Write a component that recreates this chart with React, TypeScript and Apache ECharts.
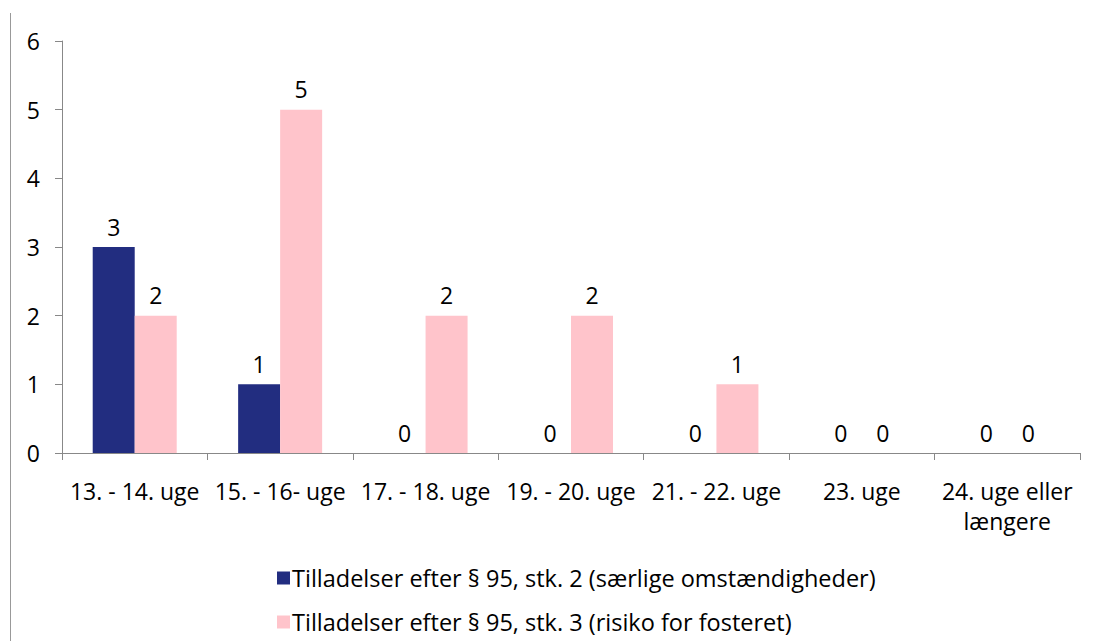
import React, { useEffect, useRef } from "react";
import * as echarts from "echarts";

const categories = [
  "13. - 14. uge",
  "15. - 16- uge",
  "17. - 18. uge",
  "19. - 20. uge",
  "21. - 22. uge",
  "23. uge",
  "24. uge eller\nlængere",
];
const seriesNames = [
  "Tilladelser efter § 95, stk. 2 (særlige omstændigheder)",
  "Tilladelser efter § 95, stk. 3 (risiko for fosteret)",
];
const stk2 = [3, 1, 0, 0, 0, 0, 0];
const stk3 = [2, 5, 2, 2, 1, 0, 0];
const yTicks = [0, 1, 2, 3, 4, 5, 6];

const FONT = "Open Sans";
const FS = 23;

export default function App() {
  const ref = useRef<HTMLDivElement>(null);
  useEffect(() => {
    if (!ref.current) return;
    const chart = echarts.init(ref.current, null, { renderer: "svg" });
    chart.setOption({
      animation: false,
      backgroundColor: "#fff",
      textStyle: { fontFamily: FONT },
      grid: { left: 62, right: 15, top: 41, bottom: 188, containLabel: false },
      legend: {
        orient: "vertical",
        left: 272,
        top: 561,
        itemWidth: 13,
        itemHeight: 13,
        itemGap: 20,
        icon: "rect",
        textStyle: { fontFamily: FONT, fontSize: 23.5, color: "#000", padding: [0, 0, 0, -3] },
        data: seriesNames,
      },
      xAxis: {
        type: "category",
        data: categories,
        axisLine: { lineStyle: { color: "#888", width: 1 } },
        axisTick: { show: true, length: 7, lineStyle: { color: "#888" } },
        axisLabel: {
          interval: 0,
          color: "#000",
          fontFamily: FONT,
          fontSize: FS,
          margin: 23,
          lineHeight: 30,
        },
      },
      yAxis: {
        type: "value",
        min: 0,
        max: 6,
        interval: 1,
        splitLine: { show: false },
        axisLine: { show: true, lineStyle: { color: "#888", width: 1 } },
        axisTick: { show: true, length: 7, lineStyle: { color: "#888" } },
        axisLabel: {
          color: "#000",
          fontFamily: FONT,
          fontSize: FS,
          margin: 22,
          customValues: yTicks,
        },
      },
      series: [
        {
          name: seriesNames[0],
          type: "bar",
          data: stk2,
          barWidth: 42,
          barGap: "0%",
          itemStyle: { color: "#222D80" },
          label: { show: true, position: "top", color: "#000", fontSize: FS, fontFamily: FONT, distance: 9 },
        },
        {
          name: seriesNames[1],
          type: "bar",
          data: stk3,
          barWidth: 42,
          barGap: "0%",
          itemStyle: { color: "#FFC4CB" },
          label: { show: true, position: "top", color: "#000", fontSize: FS, fontFamily: FONT, distance: 9 },
        },
      ],
      graphic: [
        {
          type: "line",
          shape: { x1: 10.5, y1: 13, x2: 10.5, y2: 641 },
          style: { stroke: "#999", lineWidth: 1 },
        },
      ],
    });
    return () => chart.dispose();
  }, []);
  return <div ref={ref} style={{ width: 1095, height: 641, position: "absolute", left: 0, top: 0 }} />;
}
